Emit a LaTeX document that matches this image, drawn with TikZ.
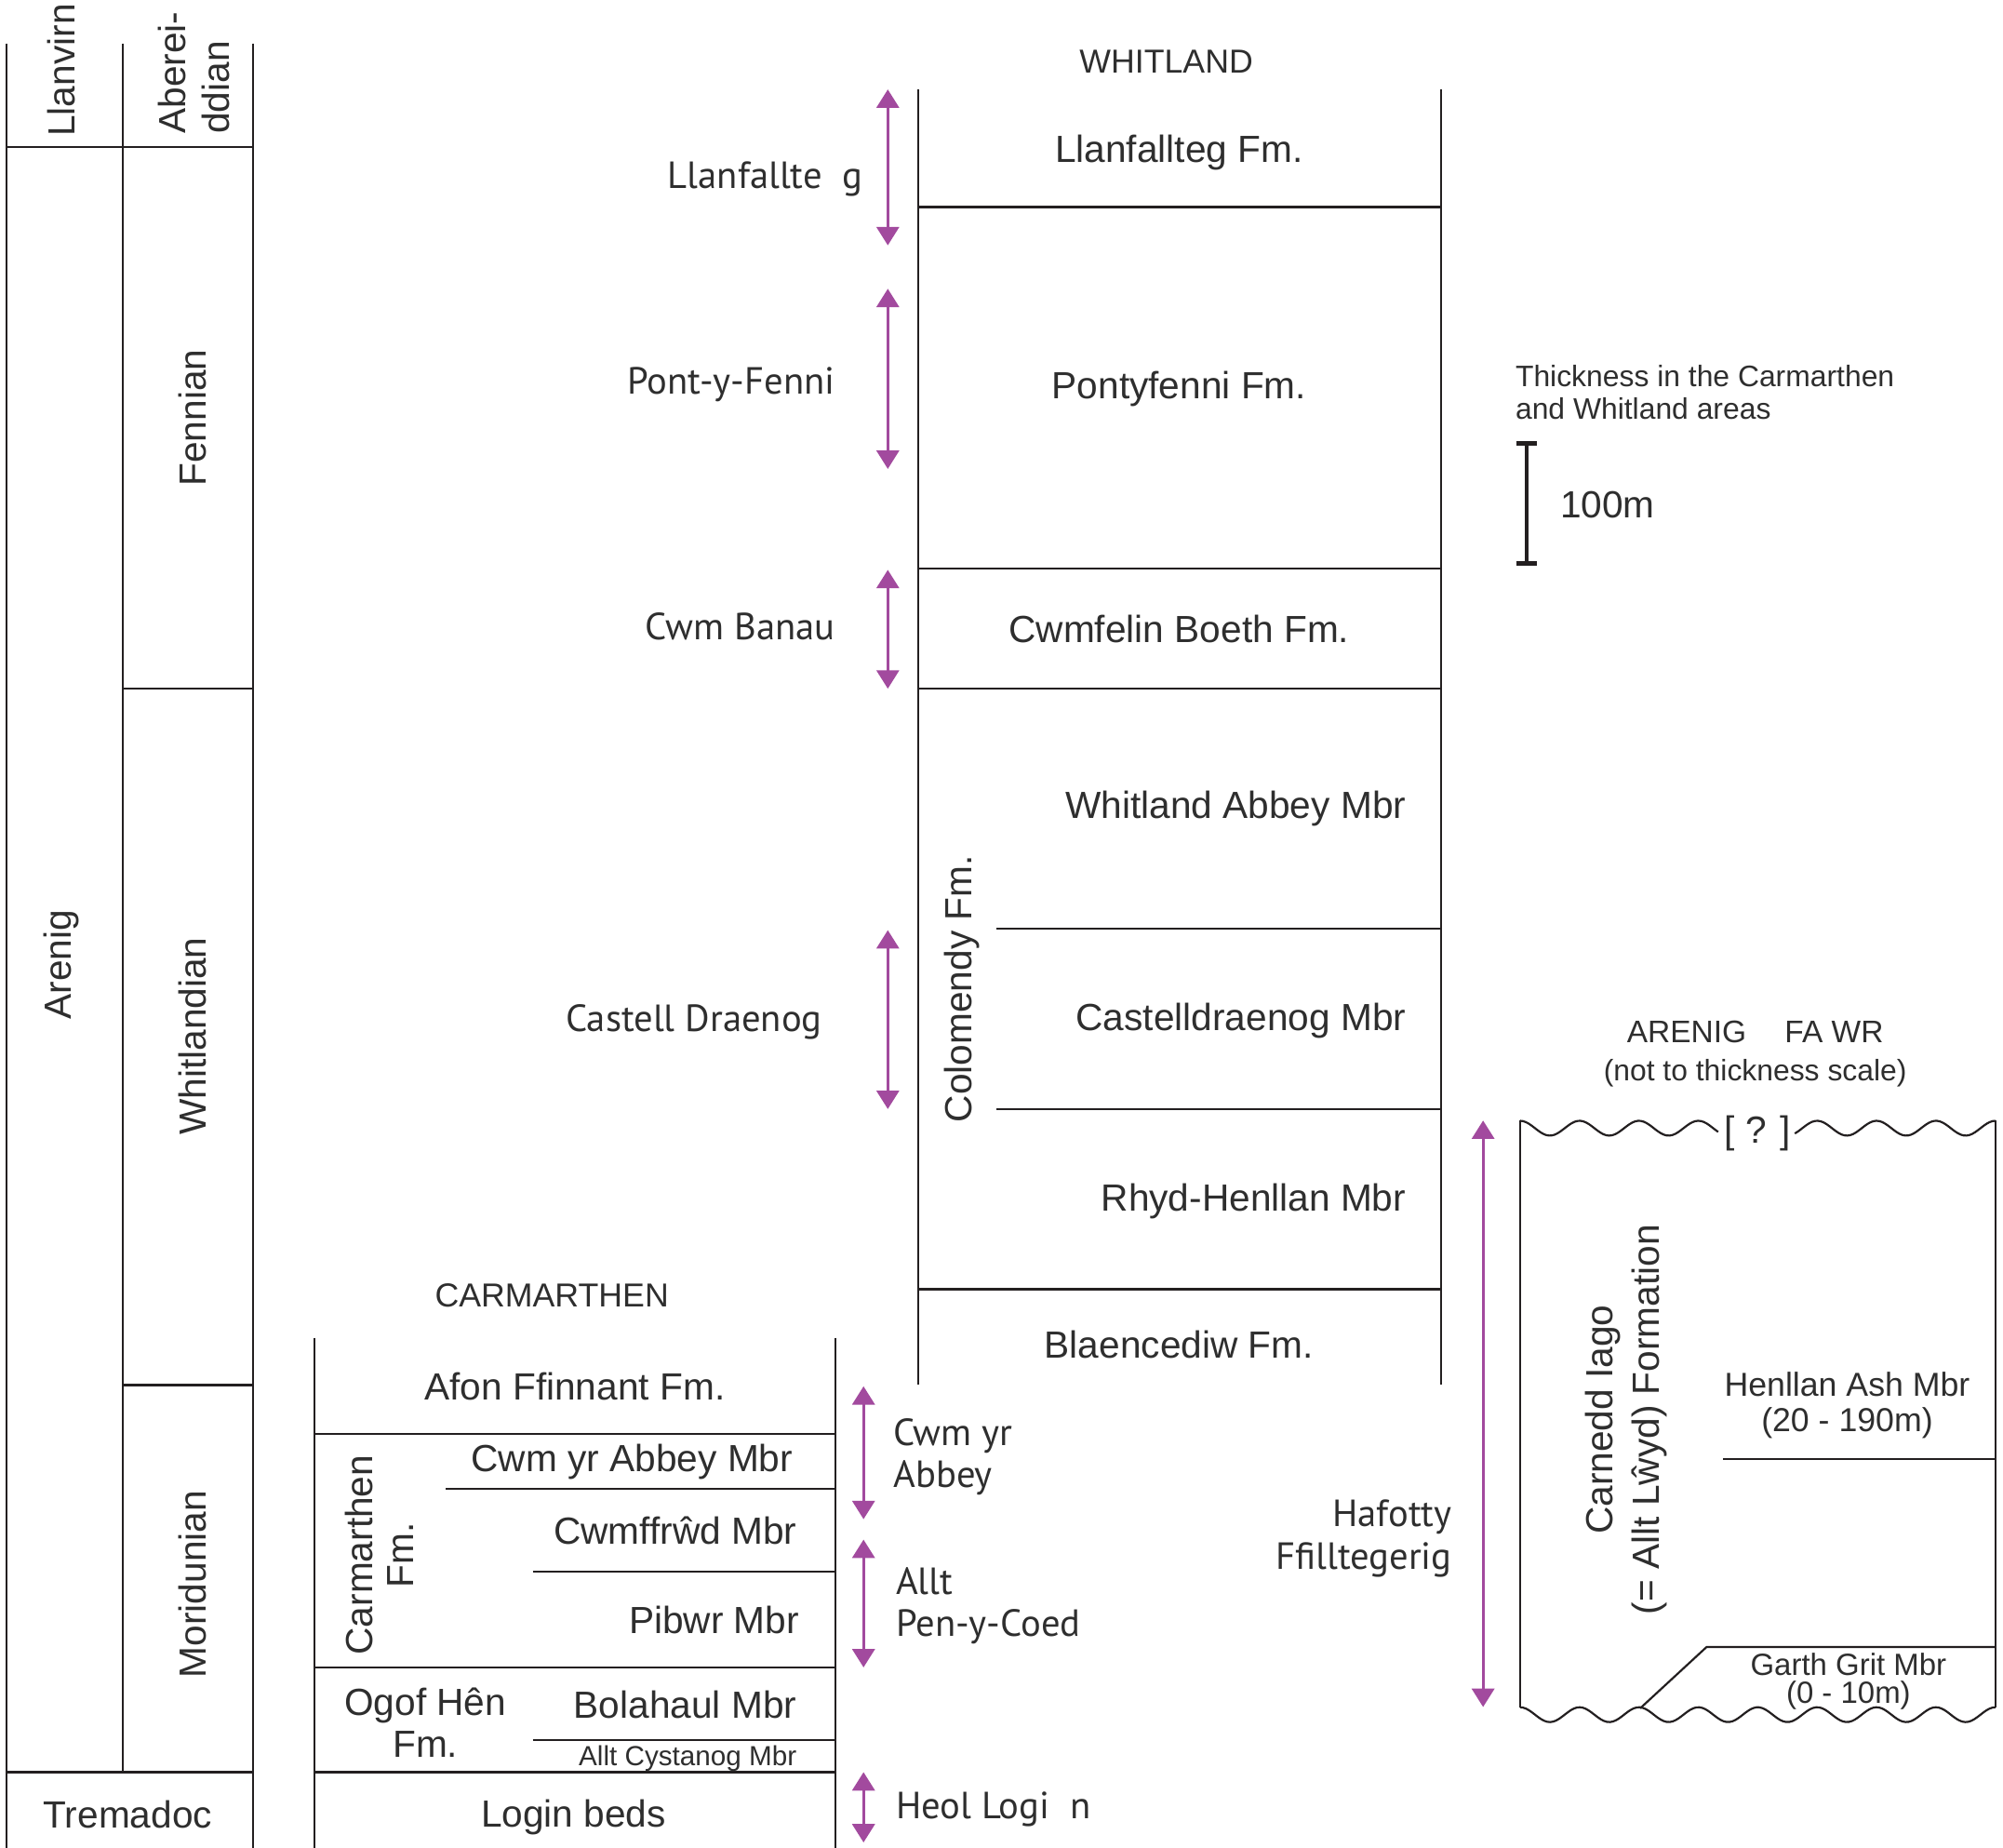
\documentclass[tikz,border=0pt]{standalone}
\usepackage{fontspec}
\setmainfont{Liberation Sans}
\newfontfamily\humanist{PT Sans}
\usetikzlibrary{arrows.meta}

\definecolor{inkgray}{HTML}{2E2E2E}
\definecolor{rulegray}{HTML}{231F20}
\definecolor{rangepurple}{HTML}{A24A9E}

\tikzset{
  rule/.style={draw=rulegray, line width=0.8pt},
  unitname/.style={text=inkgray, inner sep=0pt, text depth=0pt, font=\fontsize{14.8}{17}\selectfont},
  smallname/.style={text=inkgray, inner sep=0pt, font=\fontsize{12.2}{15}\selectfont},
  rangename/.style={text=inkgray, inner sep=0pt, text depth=0pt, font=\humanist\fontsize{14.8}{16.5}\selectfont},
  upright/.style={rotate=90, text depth={}},
  rangearrow/.style={draw=rangepurple, line width=1pt,
    {Triangle[length=7.2pt,width=8.8pt]}-{Triangle[length=7.2pt,width=8.8pt]}},
}

\begin{document}
\begin{tikzpicture}[x=0.5pt, y=-0.5pt]
    \useasboundingbox (0,0) rectangle (1568,1446);

    % draw stage columns
    \draw[rule] (5,34) -- (5,1446);
    \draw[rule] (96,34) -- (96,1387);
    \draw[rule] (198,34) -- (198,1446);
    \draw[rule] (5,115) -- (198,115);
    \draw[rule] (96,539) -- (198,539);
    \draw[rule] (96,1084) -- (198,1084);
    \draw[rule] (5,1387) -- (198,1387);

    \node[unitname, upright] (llanvirn) at (48,55) {Llanvirn};
    \node[unitname, upright, align=left, anchor=west] (abereiddian) at (152,105) {Aberei-\\ddian};
    \node[unitname, upright] (fennian) at (151,327) {Fennian};
    \node[unitname, upright] (whitlandian) at (151,811) {Whitlandian};
    \node[unitname, upright] (moridunian) at (151,1240) {Moridunian};
    \node[unitname, upright] (arenig) at (48,755) {Arenig};
    \node[unitname] (tremadoc) at (100,1420) {Tremadoc};

    % draw Whitland column
    \draw[rule] (719,70) -- (719,1084);
    \draw[rule] (1128,70) -- (1128,1084);
    \draw[rule] (719,162) -- (1128,162);
    \draw[rule] (719,445) -- (1128,445);
    \draw[rule] (719,539) -- (1128,539);
    \draw[rule] (780,727) -- (1128,727);
    \draw[rule] (780,868) -- (1128,868);
    \draw[rule] (719,1009) -- (1128,1009);

    \node[unitname, font=\fontsize{13}{15}\selectfont] (whitland) at (913,48) {WHITLAND};
    \node[unitname] (llanfallteg) at (923,116) {Llanfallteg Fm.};
    \node[unitname] (pontyfenni) at (923,301) {Pontyfenni Fm.};
    \node[unitname] (cwmfelin) at (923,492) {Cwmfelin Boeth Fm.};
    \node[unitname, anchor=east] (whitlandabbey) at (1101,630) {Whitland Abbey Mbr};
    \node[unitname, anchor=east] (castelldraenog) at (1101,796) {Castelldraenog Mbr};
    \node[unitname, anchor=east] (rhydhenllan) at (1101,937) {Rhyd-Henllan Mbr};
    \node[unitname, upright] (colomendy) at (753,774) {Colomendy Fm.};
    \node[unitname] (blaencediw) at (923,1052) {Blaencediw Fm.};

    % draw Carmarthen column
    \draw[rule] (246,1047) -- (246,1446);
    \draw[rule] (654,1047) -- (654,1446);
    \draw[rule] (246,1122) -- (654,1122);
    \draw[rule] (349,1165) -- (654,1165);
    \draw[rule] (417,1230) -- (654,1230);
    \draw[rule] (246,1305) -- (654,1305);
    \draw[rule] (417,1362) -- (654,1362);
    \draw[rule] (246,1387) -- (654,1387);

    \node[unitname, font=\fontsize{13}{15}\selectfont] (carmarthen) at (432,1014) {CARMARTHEN};
    \node[unitname] (afon) at (450,1085) {Afon Ffinnant Fm.};
    \node[unitname, anchor=east] (cwmyrabbeymbr) at (621,1141) {Cwm yr Abbey Mbr};
    \node[unitname, anchor=east] (cwmffrwd) at (624,1198) {Cwmffrŵd Mbr};
    \node[unitname, anchor=east] (pibwr) at (626,1268) {Pibwr Mbr};
    \node[unitname, upright, align=center, font=\fontsize{14.8}{16}\selectfont] (carmarthenfm) at (297,1217) {Carmarthen\\Fm.};
    \node[unitname, align=center, font=\fontsize{14.8}{16.5}\selectfont] (ogof) at (333,1348) {Ogof Hên\\Fm.};
    \node[unitname, anchor=east] (bolahaul) at (624,1334) {Bolahaul Mbr};
    \node[unitname, anchor=east, font=\fontsize{10.8}{12}\selectfont] (alltcystanog) at (624,1374) {Allt Cystanog Mbr};
    \node[unitname] (login) at (449,1419) {Login beds};

    % draw range arrows
    \foreach \name/\x/\ya/\yb in {llan/695/70/192, pont/695/226/367, banau/695/446/539,
        draenog/695/728/868, abbey/676/1085/1189, pycoed/676/1205/1305,
        heol/676/1387/1442, hafotty/1161/877/1336}{
      \coordinate (\name-top) at (\x,\ya);
      \coordinate (\name-bot) at (\x,\yb);
      \draw[rangearrow] (\name-top) -- (\name-bot);
    }

    \node[rangename, anchor=east] (llanrange) at (676,137) {Llanfallte\hspace{8pt}g};
    \node[rangename, anchor=east] (pontrange) at (654,298) {Pont-y-Fenni};
    \node[rangename, anchor=east] (banaurange) at (654,490) {Cwm Banau};
    \node[rangename, anchor=east] (draenogrange) at (644,797) {Castell Draenog};
    \node[rangename, anchor=west, align=left] (abbeyrange) at (699,1137) {Cwm yr\\Abbey};
    \node[rangename, anchor=west, align=left] (pycoedrange) at (701,1254) {Allt\\Pen-y-Coed};
    \node[rangename, anchor=west] (heolrange) at (701,1413) {Heol Logi\hspace{8pt}n};
    \node[rangename, anchor=east, align=right] (hafottyrange) at (1137,1201) {Hafotty\\Ffilltegerig};

    % draw thickness scale
    \node[smallname, anchor=west, align=left, font=\fontsize{11.6}{13}\selectfont] (thickness) at (1186,307) {Thickness in the Carmarthen\\and Whitland areas};
    \draw[draw=rulegray, line width=1.5pt] (1187,347) -- (1203,347) (1195,347) -- (1195,441) (1187,441) -- (1203,441);
    \node[unitname, anchor=west] (hundred) at (1221,395) {100m};

    % draw Arenig FA WR column
    \node[smallname, align=center, font=\fontsize{12.2}{15}\selectfont] (fawr) at (1374,825) {ARENIG\hspace{15pt}FA WR\\{\fontsize{11.6}{13}\selectfont(not to thickness scale)}};
    \draw[rule] plot[domain=1190:1345, samples=70] (\x, {883-5.8*cos(360*((\x-1190)/46.5))});
    \draw[rule] plot[domain=1405:1562, samples=70] (\x, {883-5.8*cos(360*((\x-1190)/46.5))});
    \draw[rule] plot[domain=1190:1562, samples=160] (\x, {1342-5.8*cos(360*((\x-1190)/46.5))});
    \node[unitname] (query) at (1376,884) {[ ? ]};
    \draw[rule] (1190,877.2) -- (1190,1336.2);
    \draw[rule] (1562,877.2) -- (1562,1336.2);
    \draw[rule] (1349,1142) -- (1562,1142);
    \draw[rule] (1284,1337) -- (1336,1289) -- (1562,1289);

    \node[unitname, upright, align=center, font=\fontsize{14.8}{18}\selectfont] (carnedd) at (1273,1111) {Carnedd Iago\\(= Allt Lŵyd) Formation};
    \node[smallname, align=center, font=\fontsize{13}{14}\selectfont] (henllan) at (1446,1100) {Henllan Ash Mbr\\(20 - 190m)};
    \node[smallname, align=center, font=\fontsize{12}{11}\selectfont] (garth) at (1447,1316) {Garth Grit Mbr\\(0 - 10m)};
\end{tikzpicture}
\end{document}
